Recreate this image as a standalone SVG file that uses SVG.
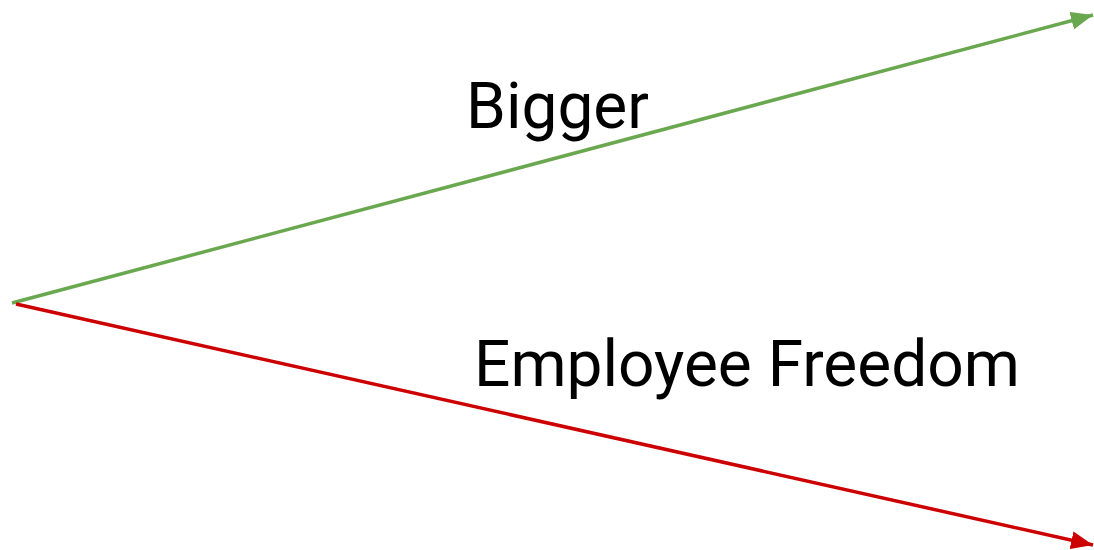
<svg xmlns="http://www.w3.org/2000/svg" width="1094" height="550" viewBox="0 0 1094 550">
<style>
.lbl{font-family:Roboto,"Liberation Sans",sans-serif;font-size:64px;fill:#000}
</style>
<defs>
<marker id="ag" markerUnits="userSpaceOnUse" markerWidth="24" markerHeight="18" refX="22" refY="9" orient="auto"><path d="M0,0 L22,9 L0,18 Z" fill="#6aa84f"/></marker>
<marker id="ar" markerUnits="userSpaceOnUse" markerWidth="24" markerHeight="18" refX="22" refY="9" orient="auto"><path d="M0,0 L22,9 L0,18 Z" fill="#cc0000"/></marker>
</defs>
<g id="connectors">
<line x1="12" y1="303" x2="1093" y2="15" stroke="#6aa84f" stroke-width="3.5" marker-end="url(#ag)"/>
<line x1="16" y1="304" x2="1093" y2="545" stroke="#cc0000" stroke-width="3.5" marker-end="url(#ar)"/>
</g>
<g id="bigger"><text class="lbl" x="466" y="128">Bigger</text></g>
<g id="freedom"><text class="lbl" x="474" y="386">Employee Freedom</text></g>
</svg>
